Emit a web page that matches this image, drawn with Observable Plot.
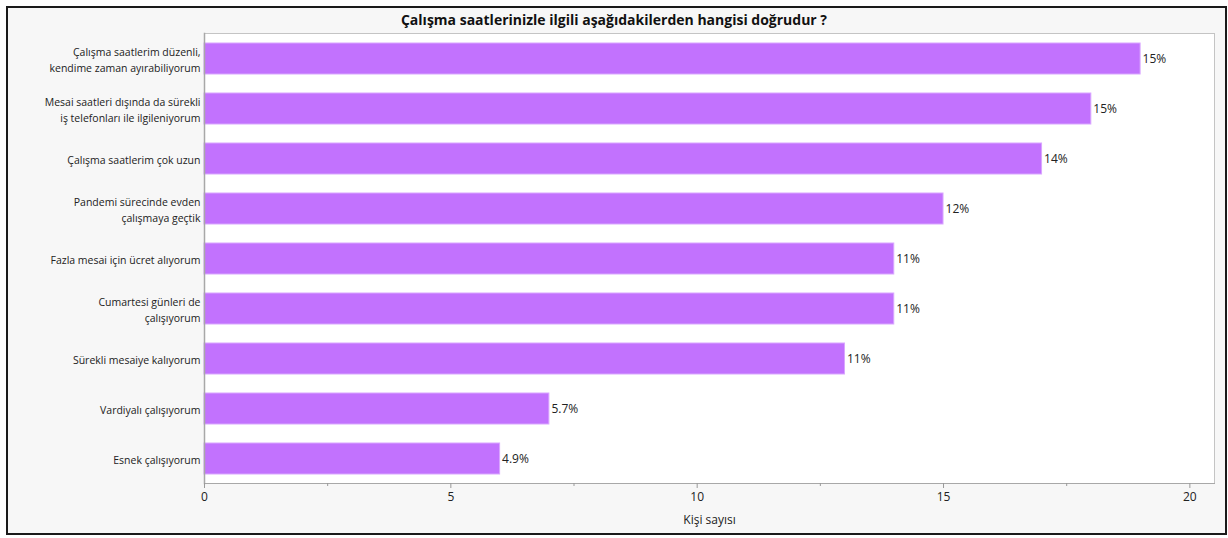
<!DOCTYPE html>
<html>
<head>
<meta charset="utf-8">
<script src="https://cdn.jsdelivr.net/npm/d3@7"></script>
<script src="https://cdn.jsdelivr.net/npm/@observablehq/plot@0.6"></script>
<style>
  html, body { margin: 0; padding: 0; background: #ffffff; }
  body { position: relative; width: 1228px; height: 538px; overflow: hidden; font-family: "Open Sans", sans-serif; }
  #frame { position: absolute; left: 6px; top: 6px; width: 1217px; height: 525px; border: 2px solid #1a1a1a; background: #f7f7f7; }
  #title { position: absolute; left: 0; top: 10px; width: 1228px; text-align: center; font-weight: bold; font-size: 14px; color: #111; }
  #chart { position: absolute; left: 0; top: 28px; }
</style>
</head>
<body>
<div id="frame"></div>
<div id="title">Çalışma saatlerinizle ilgili aşağıdakilerden hangisi doğrudur ?</div>
<div id="chart"></div>
<script>
const categories = [
  "Çalışma saatlerim düzenli,\nkendime zaman ayırabiliyorum",
  "Mesai saatleri dışında da sürekli\niş telefonları ile ilgileniyorum",
  "Çalışma saatlerim çok uzun",
  "Pandemi sürecinde evden\nçalışmaya geçtik",
  "Fazla mesai için ücret alıyorum",
  "Cumartesi günleri de\nçalışıyorum",
  "Sürekli mesaiye kalıyorum",
  "Vardiyalı çalışıyorum",
  "Esnek çalışıyorum"
];
const counts = [19, 18, 17, 15, 14, 14, 13, 7, 6];
const percentLabels = ["15%", "15%", "14%", "12%", "11%", "11%", "11%", "5.7%", "4.9%"];
const majorTicks = [0, 5, 10, 15, 20];
const minorTicks = [2.5, 7.5, 12.5, 17.5];

const data = categories.map((c, i) => ({category: c, count: counts[i], label: percentLabels[i]}));

const chart = Plot.plot({
  width: 1228,
  height: 510,
  marginLeft: 204,
  marginRight: 14,
  marginTop: 5,
  marginBottom: 55,
  style: {background: "transparent", fontFamily: "Open Sans, sans-serif", color: "#222"},
  x: {domain: [0, 20.5]},
  y: {domain: categories, paddingInner: 0.38, paddingOuter: 0.19},
  marks: [
    Plot.frame({fill: "white", stroke: "#c4c4c4"}),
    Plot.barX(data, {x: "count", y: "category", fill: "#c272fe", stroke: "#d9a6ff", strokeWidth: 1}),
    Plot.text(data, {x: "count", y: "category", text: "label", textAnchor: "start", dx: 2, fontSize: 12, fill: "#222"}),
    Plot.frame({anchor: "left", stroke: "#a8a8a8", strokeWidth: 1.5}),
    Plot.frame({anchor: "bottom", stroke: "#a8a8a8"}),
    Plot.axisX({ticks: majorTicks, tickSize: 5, tickPadding: 4, fontSize: 12, stroke: "#999", label: "Kişi sayısı", labelAnchor: "center", labelArrow: "none", labelOffset: 40}),
    Plot.axisX({ticks: minorTicks, tickSize: 3, tickFormat: () => "", stroke: "#999", label: null}),
    Plot.axisY({tickSize: 0, tickPadding: 4, fontSize: 10.5, lineHeight: 1.5, label: null})
  ]
});
document.getElementById("chart").appendChild(chart);
</script>
</body>
</html>
